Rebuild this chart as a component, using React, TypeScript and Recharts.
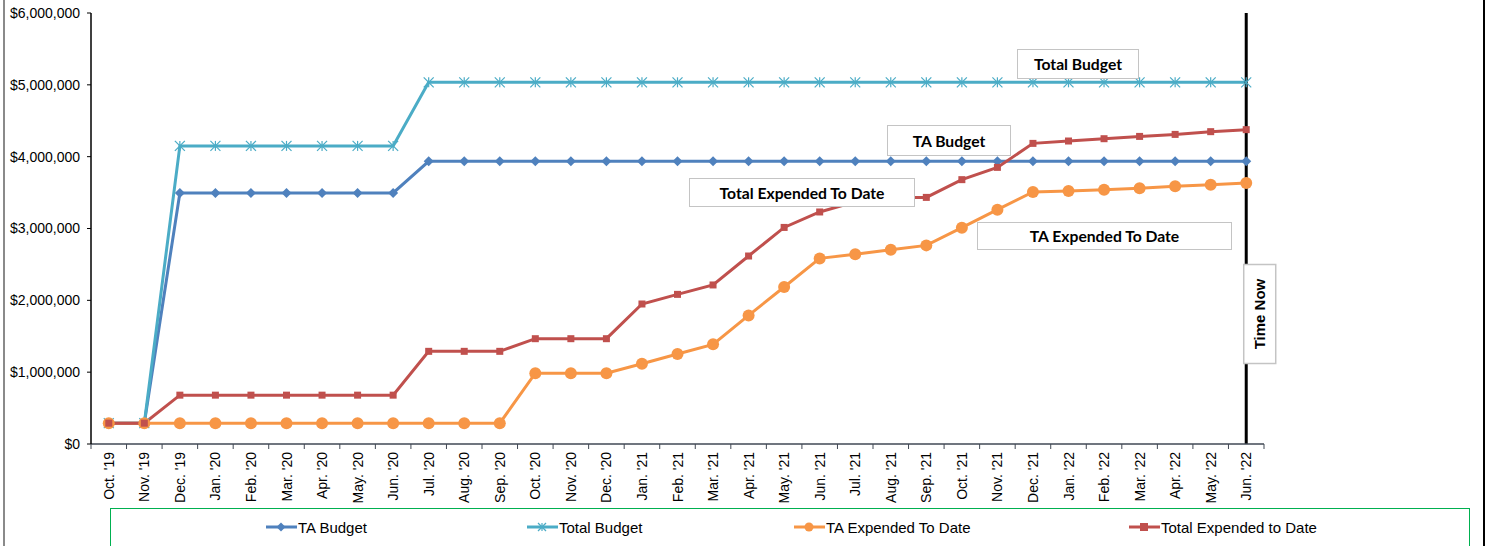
import React from 'react';
import { LineChart, Line, XAxis, YAxis, ReferenceLine, Legend } from 'recharts';

const MONTHS = [
  "Oct. '19", "Nov. '19", "Dec. '19", "Jan. '20", "Feb. '20", "Mar. '20", "Apr. '20", "May. '20",
  "Jun. '20", "Jul. '20", "Aug. '20", "Sep. '20", "Oct. '20", "Nov. '20", "Dec. '20", "Jan. '21",
  "Feb. '21", "Mar. '21", "Apr. '21", "May. '21", "Jun. '21", "Jul. '21", "Aug. '21", "Sep. '21",
  "Oct. '21", "Nov. '21", "Dec. '21", "Jan. '22", "Feb. '22", "Mar. '22", "Apr. '22", "May. '22",
  "Jun. '22",
];

const TA_BUDGET = [
  290000, 290000, 3495000, 3495000, 3495000, 3495000, 3495000, 3495000, 3495000,
  3935000, 3935000, 3935000, 3935000, 3935000, 3935000, 3935000, 3935000, 3935000, 3935000,
  3935000, 3935000, 3935000, 3935000, 3935000, 3935000, 3935000, 3935000, 3935000, 3935000,
  3935000, 3935000, 3935000, 3935000,
];

const TOTAL_BUDGET = [
  290000, 290000, 4150000, 4150000, 4150000, 4150000, 4150000, 4150000, 4150000,
  5035000, 5035000, 5035000, 5035000, 5035000, 5035000, 5035000, 5035000, 5035000, 5035000,
  5035000, 5035000, 5035000, 5035000, 5035000, 5035000, 5035000, 5035000, 5035000, 5035000,
  5035000, 5035000, 5035000, 5035000,
];

const TA_EXPENDED = [
  290000, 290000, 290000, 290000, 290000, 290000, 290000, 290000, 290000, 290000, 290000, 290000,
  985000, 985000, 985000, 1118000, 1253000, 1387000, 1790000, 2186000, 2584000, 2640000,
  2705000, 2765000, 3011000, 3262000, 3508000, 3522000, 3540000, 3559000, 3587000, 3610000,
  3634000,
];

const TOTAL_EXPENDED = [
  290000, 290000, 680000, 680000, 680000, 680000, 680000, 680000, 680000,
  1290000, 1290000, 1290000, 1466000, 1466000, 1466000, 1949000, 2083000, 2214000, 2617000,
  3015000, 3230000, 3370000, 3430000, 3433000, 3680000, 3851000, 4185000, 4218000, 4250000,
  4282000, 4310000, 4348000, 4376000,
];

const Y_TICKS = [0, 1000000, 2000000, 3000000, 4000000, 5000000, 6000000];
const TIME_NOW = "Jun. '22";

const BLUE = '#4f81bd';
const TEAL = '#4bacc6';
const ORANGE = '#f79646';
const RED = '#c0504d';

const data = MONTHS.map((month, i) => ({
  month,
  taBudget: TA_BUDGET[i],
  totalBudget: TOTAL_BUDGET[i],
  taExpended: TA_EXPENDED[i],
  totalExpended: TOTAL_EXPENDED[i],
}));

const PLOT_W = 1173;
const HALF_BAND = PLOT_W / MONTHS.length / 2;
const AXIS_GRAY = '#404854';
const ARIAL = "'Liberation Sans', Arial, sans-serif";

const fmtMoney = (v: number) => '$' + v.toLocaleString('en-US');

const Diamond = ({ cx, cy, r, color }: any) => (
  <polygon points={`${cx},${cy - r} ${cx + r},${cy} ${cx},${cy + r} ${cx - r},${cy}`} fill={color} />
);

const Star = ({ cx, cy, r, color }: any) => (
  <g stroke={color} strokeWidth={1.2}>
    <line x1={cx} y1={cy - r} x2={cx} y2={cy + r} />
    <line x1={cx - r} y1={cy - r} x2={cx + r} y2={cy + r} />
    <line x1={cx - r} y1={cy + r} x2={cx + r} y2={cy - r} />
  </g>
);

const Dot = ({ cx, cy, r, color }: any) => <circle cx={cx} cy={cy} r={r} fill={color} />;

const Square = ({ cx, cy, r, color }: any) => (
  <rect x={cx - r} y={cy - r} width={r * 2} height={r * 2} fill={color} />
);

const makeDot = (Shape: any, r: number, color: string) => (props: any) => {
  const { cx, cy, index } = props;
  if (cx == null || cy == null) return <g key={index} />;
  return (
    <g key={index}>
      <Shape cx={cx} cy={cy} r={r} color={color} />
    </g>
  );
};

const MonthTick = (props: any) => {
  const { x, y, payload, index } = props;
  const axisY = y - 8;
  return (
    <g>
      {index === 0 && (
        <line x1={x - HALF_BAND} y1={axisY} x2={x - HALF_BAND} y2={axisY + 5} stroke={AXIS_GRAY} />
      )}
      <line x1={x + HALF_BAND} y1={axisY} x2={x + HALF_BAND} y2={axisY + 5} stroke={AXIS_GRAY} />
      <g transform={`translate(${x},${y}) rotate(-90)`}>
        <text x={0} y={0} dy={5} textAnchor="end" fontSize={14} fill="#000" fontFamily={ARIAL}>
          {payload.value}
        </text>
      </g>
    </g>
  );
};

const TimeNowLabel = (props: any) => {
  const vb = props.viewBox || {};
  const cx = vb.x + 13.5;
  const cy = vb.y + 301;
  return (
    <g>
      <rect x={cx - 16} y={cy - 49.5} width={32} height={99} fill="#fff" stroke="#c4c4c4" strokeWidth={1.5} />
      <text x={cx} y={cy} transform={`rotate(-90 ${cx} ${cy})`} textAnchor="middle"
        dominantBaseline="central" fontSize={15} fontWeight="bold" fill="#000" fontFamily={ARIAL}>
        Time Now
      </text>
    </g>
  );
};

const LEGEND_ITEMS = [
  { label: 'TA Budget', color: BLUE, shape: Diamond, r: 4.5, left: 155 },
  { label: 'Total Budget', color: TEAL, shape: Star, r: 4, left: 416 },
  { label: 'TA Expended To Date', color: ORANGE, shape: Dot, r: 4.5, left: 683 },
  { label: 'Total Expended to Date', color: RED, shape: Square, r: 4, left: 1018 },
];

const LegendBox = () => (
  <div style={{ position: 'relative', width: 1360, height: 48, border: '1.5px solid #00b050', boxSizing: 'border-box' }}>
    {LEGEND_ITEMS.map((it) => (
      <div key={it.label} style={{ position: 'absolute', left: it.left, top: 7, display: 'flex', alignItems: 'center', height: 22 }}>
        <svg width={31} height={14}>
          <line x1={0} y1={7} x2={31} y2={7} stroke={it.color} strokeWidth={3} />
          <it.shape cx={15} cy={7} r={it.r} color={it.color} />
        </svg>
        <span style={{ fontFamily: ARIAL, fontSize: 15, color: '#000', marginLeft: 1, whiteSpace: 'nowrap' }}>
          {it.label}
        </span>
      </div>
    ))}
  </div>
);

const ANNOTATIONS = [
  { text: 'Total Budget', left: 1017, top: 49, width: 122, height: 30 },
  { text: 'TA Budget', left: 887, top: 125, width: 124, height: 31 },
  { text: 'Total Expended To Date', left: 689, top: 178, width: 226, height: 29 },
  { text: 'TA Expended To Date', left: 977, top: 222, width: 255, height: 28 },
];

export default function App() {
  return (
    <div style={{ position: 'absolute', left: 0, top: 0, width: 1490, height: 546, overflow: 'hidden', background: '#fff' }}>
      <div style={{ position: 'absolute', left: 3, top: 0, width: 1.5, height: 546, background: '#8a8a8a' }} />
      <div style={{ position: 'absolute', left: 1483, top: 0, width: 2, height: 546, background: '#000' }} />
      <LineChart width={1490} height={546} data={data} margin={{ top: 13, right: 226, bottom: 0, left: 0 }}>
        <XAxis
          dataKey="month"
          interval={0}
          tick={MonthTick}
          tickLine={false}
          tickSize={5}
          tickMargin={3}
          padding={{ left: HALF_BAND, right: HALF_BAND }}
          height={102}
          axisLine={{ stroke: AXIS_GRAY, strokeWidth: 1.5 }}
        />
        <XAxis xAxisId="top" orientation="top" type="number" domain={[0, 1]} height={0}
          tick={false} tickLine={false} axisLine={{ stroke: '#7d9fd3', strokeWidth: 1.5 }} />
        <YAxis
          domain={[0, 6000000]}
          ticks={Y_TICKS}
          tickFormatter={fmtMoney}
          width={91}
          tickSize={4}
          tickMargin={7}
          interval={0}
          axisLine={{ stroke: '#000', strokeWidth: 1.5 }}
          tickLine={{ stroke: '#000' }}
          tick={{ fill: '#000', fontSize: 14, fontFamily: ARIAL }}
        />
        <YAxis yAxisId="right" orientation="right" domain={[0, 1]} width={0}
          tick={false} tickLine={false} axisLine={{ stroke: '#7d9fd3', strokeWidth: 1.5 }} />
        <Legend
          layout="horizontal"
          verticalAlign="middle"
          align="center"
          wrapperStyle={{ top: 508, left: 110, width: 1360, height: 48 }}
          content={() => <LegendBox />}
        />
        <Line dataKey="taBudget" stroke={BLUE} strokeWidth={3} dot={makeDot(Diamond, 5, BLUE)} activeDot={false} isAnimationActive={false} />
        <Line dataKey="totalBudget" stroke={TEAL} strokeWidth={3} dot={makeDot(Star, 5, TEAL)} activeDot={false} isAnimationActive={false} />
        <Line dataKey="taExpended" stroke={ORANGE} strokeWidth={3} dot={makeDot(Dot, 6, ORANGE)} activeDot={false} isAnimationActive={false} />
        <Line dataKey="totalExpended" stroke={RED} strokeWidth={3} dot={makeDot(Square, 3.5, RED)} activeDot={false} isAnimationActive={false} />
        <ReferenceLine x={TIME_NOW} stroke="#000" strokeWidth={3} label={<TimeNowLabel />} />
      </LineChart>
      {ANNOTATIONS.map((a) => (
        <div key={a.text} style={{
          position: 'absolute', left: a.left, top: a.top, width: a.width, height: a.height,
          boxSizing: 'border-box', border: '1.5px solid #c4c4c4', background: '#fff',
          display: 'flex', alignItems: 'center', justifyContent: 'center',
          fontFamily: 'Lato, sans-serif', fontWeight: 'bold', fontSize: 15.7, color: '#000',
        }}>
          {a.text}
        </div>
      ))}
    </div>
  );
}
